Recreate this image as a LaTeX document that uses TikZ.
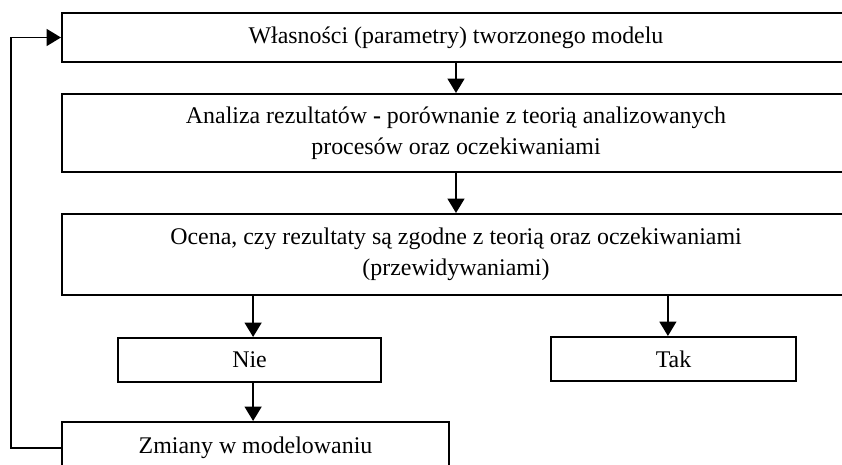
\documentclass[tikz,border=0pt]{standalone}
\usepackage{fontspec}
\setmainfont{Liberation Serif}
\usetikzlibrary{arrows.meta,positioning,calc}

\begin{document}
\begin{tikzpicture}[
        box/.style={draw,line width=1.4pt,fill=white,align=center,inner sep=0pt},
        flow/.style={-{Triangle[length=3.6mm,width=4.2mm]},line width=1.4pt},
        font=\fontsize{17}{22}\selectfont
    ]
            \useasboundingbox (0,0) rectangle (21.05,11.6);

            % Main boxes (right edges run past the page)
            \node[box,minimum width=19.7cm,minimum height=1.225cm] (props) at (11.4,10.6625) {W\l asno\'sci (parametry) tworzonego modelu};
            \node[box,minimum width=19.7cm,minimum height=1.95cm] (analysis) at (11.4,8.275) {Analiza rezultat\'ow \textbf{-} por\'ownanie z teori\k{a} analizowanych\\proces\'ow oraz oczekiwaniami};
            \node[box,minimum width=19.7cm,minimum height=2.025cm] (rating) at (11.4,5.2375) {Ocena, czy rezultaty s\k{a} zgodne z teori\k{a} oraz oczekiwaniami\\(przewidywaniami)};

            % Answer boxes
            \node[box,minimum width=6.575cm,minimum height=1.1cm] (no) at (6.2375,2.6) {Nie};
            \node[box,minimum width=6.125cm,minimum height=1.1cm] (yes) at (16.8375,2.625) {Tak};

            % Changes box
            \node[box,minimum width=9.675cm,minimum height=1.3cm] (changes) at (6.3875,0.4) {Zmiany w modelowaniu};

            % Arrows between boxes
            \draw[flow] (props) -- (analysis);
            \draw[flow] (analysis) -- (rating);
            \draw[flow] (rating.south -| no.north) ++(0.09,0) -- ($(no.north)+(0.09,0)$);
            \draw[flow] (rating.south -| yes.north) ++(-0.14,0) -- ($(yes.north)+(-0.14,0)$);
            \draw[flow] ($(no.south)+(0.09,0)$) -- ($(changes.north -| no.south)+(0.09,0)$);

            % Feedback loop
            \draw[flow] (changes.west) -- ++(-1.25,0) |- (props.west);

        \end{tikzpicture}
\end{document}
